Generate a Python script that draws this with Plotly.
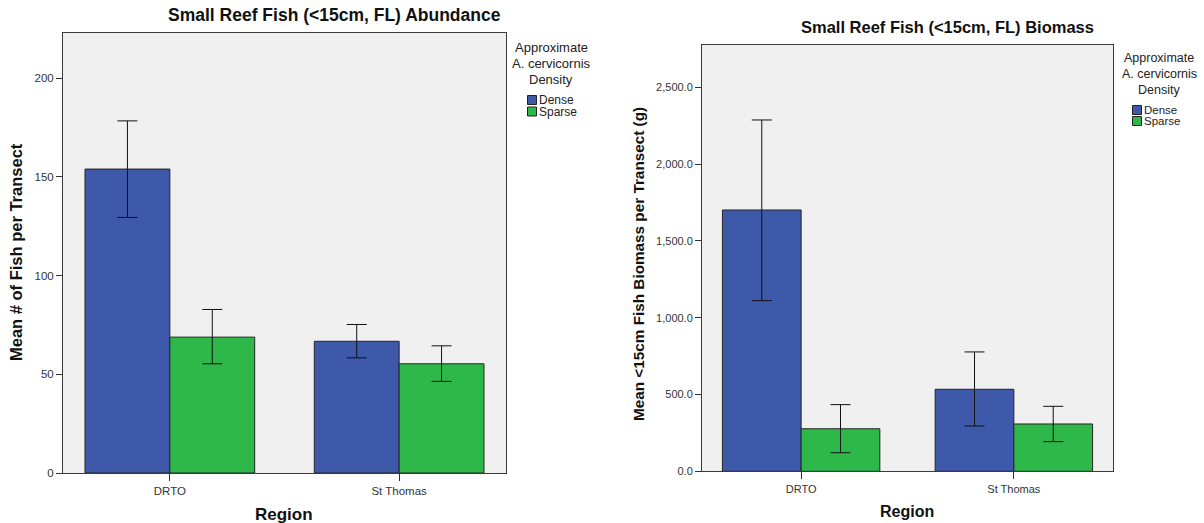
import plotly.graph_objects as go

# ---- data ----
regions = ["DRTO", "St Thomas"]
densities = ["Dense", "Sparse"]

abund_dense = [153.9, 66.7]
abund_dense_lo = [129.4, 58.3]
abund_dense_hi = [178.3, 75.2]
abund_sparse = [68.8, 55.3]
abund_sparse_lo = [55.3, 46.4]
abund_sparse_hi = [82.8, 64.4]

bio_dense = [1701.0, 534.0]
bio_dense_lo = [1111.0, 295.0]
bio_dense_hi = [2287.0, 777.0]
bio_sparse = [277.0, 308.0]
bio_sparse_lo = [121.0, 193.0]
bio_sparse_hi = [434.0, 423.0]

abund_ticks = [0, 50, 100, 150, 200]
bio_ticks = [0, 500, 1000, 1500, 2000, 2500]

legend_title_lines = ["Approximate", "A. cervicornis", "Density"]

colors = {"Dense": "#3E58AA", "Sparse": "#2EB84A"}

W, H = 1204, 523
def px(x):
    return x / W
def py(y):
    return 1 - y / H

FONT = "Liberation Sans, Arial, sans-serif"

fig = go.Figure()

def add_bars(name, vals, lo, hi, xa, ya):
    fig.add_trace(go.Bar(
        x=regions, y=vals, name=name,
        marker=dict(color=colors[name], line=dict(color="#252525", width=1)),
        error_y=dict(type="data", symmetric=False,
                     array=[h - v for h, v in zip(hi, vals)],
                     arrayminus=[v - l for v, l in zip(vals, lo)],
                     color="#111111", thickness=1, width=10),
        xaxis=xa, yaxis=ya, showlegend=False,
        offsetgroup=name + xa,
    ))

add_bars("Dense", abund_dense, abund_dense_lo, abund_dense_hi, "x", "y")
add_bars("Sparse", abund_sparse, abund_sparse_lo, abund_sparse_hi, "x", "y")
add_bars("Dense", bio_dense, bio_dense_lo, bio_dense_hi, "x2", "y2")
add_bars("Sparse", bio_sparse, bio_sparse_lo, bio_sparse_hi, "x2", "y2")

def axis_common(fs):
    return dict(showline=True, linecolor="#3a3a3a", linewidth=1, mirror=True,
                showgrid=False, zeroline=False, ticks="outside", automargin=False,
                tickcolor="#333333", tickfont=dict(family=FONT, size=fs, color="#333333"),
                fixedrange=True)

fig.update_layout(
    width=W, height=H,
    margin=dict(l=0, r=0, t=0, b=0, autoexpand=False),
    paper_bgcolor="white",
    plot_bgcolor="#F0F0F0",
    barmode="group", bargap=0.26, bargroupgap=0,
    showlegend=False,
    xaxis=dict(domain=[px(63), px(506)], anchor="y", type="category",
               range=[-0.466, 1.466], ticklen=7, **axis_common(11.5)),
    yaxis=dict(domain=[py(473), py(33)], anchor="x", range=[0, 222.8],
               tickvals=abund_ticks, ticklen=6, **axis_common(11.5)),
    xaxis2=dict(domain=[px(702), px(1113)], anchor="y2", type="category",
                range=[-0.466, 1.466], ticklen=7, **axis_common(11)),
    yaxis2=dict(domain=[py(471.3), py(45)], anchor="x2", range=[0, 2775],
                tickvals=bio_ticks, tickformat=",.1f", ticklen=6, **axis_common(11)),
)

def ann(text, x, y, size=14, bold=True, angle=0, anchor="center", color="#111111"):
    fig.add_annotation(text=f"<b>{text}</b>" if bold else text,
                       x=px(x), y=py(y), xref="paper", yref="paper",
                       xanchor=anchor, yanchor="middle", showarrow=False,
                       textangle=angle, borderpad=0,
                       font=dict(family=FONT, size=size, color=color))

ann("Small Reef Fish (&lt;15cm, FL) Abundance", 334, 15, size=17.5)
ann("Small Reef Fish (&lt;15cm, FL) Biomass", 947, 27, size=16.5)
ann("Region", 284, 514, size=17)
ann("Region", 907, 511, size=16)
ann("Mean # of Fish per Transect", 16, 252, size=16.5, angle=-90)
ann("Mean &lt;15cm Fish Biomass per Transect (g)", 638, 264, size=15.3, angle=-90)

# manual legends (title lines, key squares, labels)
def legend(cx, title_ys, key_x, key_ys, size):
    for line, y in zip(legend_title_lines, title_ys):
        ann(line, cx, y, size=size, bold=False, color="#222222")
    for name, ky in zip(densities, key_ys):
        fig.add_shape(type="rect", xref="paper", yref="paper",
                      x0=px(key_x), x1=px(key_x + 9), y0=py(ky - 4.5), y1=py(ky + 4.5),
                      fillcolor=colors[name], line=dict(color="#222222", width=1))
        ann(name, key_x + 10, ky, size=size - 1, bold=False, anchor="left", color="#222222")

legend(551, [48, 63, 79], 527.5, [100, 111.5], 13)
legend(1159, [58, 74, 90], 1132.5, [110, 121], 12.5)

fig.write_html("out.html",
               config={"displayModeBar": False, "staticPlot": True},
               post_script="document.body.style.margin='0';document.body.style.overflow='hidden';")
